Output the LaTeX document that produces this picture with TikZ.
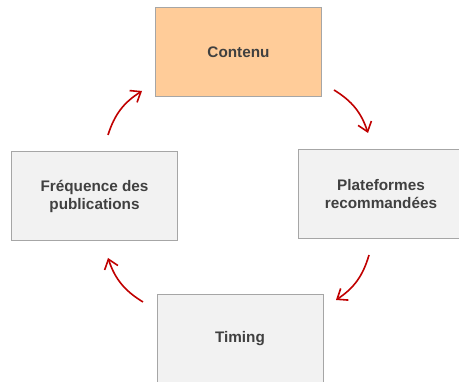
\documentclass[tikz,border=0pt]{standalone}
\usepackage{fontspec}
\setmainfont{Liberation Sans}
\usetikzlibrary{arrows.meta}
\definecolor{boxfill}{HTML}{F2F2F2}
\definecolor{boxorange}{HTML}{FFCC99}
\definecolor{boxline}{HTML}{A6A6A6}
\definecolor{txt}{HTML}{404040}
\definecolor{arr}{HTML}{C00000}
\begin{document}
\begin{tikzpicture}[x=1pt,y=1pt,
  box/.style={draw=boxline, line width=1pt, fill=boxfill, minimum width=166pt, minimum height=89pt,
    inner sep=0pt, align=center, text=txt, font=\bfseries\fontsize{15.3}{17.5}\selectfont},
  cyc/.style={draw=arr, line width=1.6pt, -{Straight Barb[length=9pt,width=14pt,line width=1.6pt]}, bend left=20}]
\useasboundingbox (0,0) rectangle (459,382);
\clip (0,0) rectangle (459,382);
\node[box, fill=boxorange] (c) at (238.5,329.5) {Contenu};
\node[box] (p) at (381,188) {Plateformes\\recommandées};
\node[box] (f) at (94.5,185.5) {Fréquence des\\publications};
\node[box] (t) at (240,43) {Timing};
\coordinate (a1s) at (334,292);
\coordinate (a1e) at (368,249);
\coordinate (a2s) at (369,127);
\coordinate (a2e) at (336,82);
\coordinate (a3s) at (143,80);
\coordinate (a3e) at (108,124);
\coordinate (a4s) at (108,247);
\coordinate (a4e) at (142,291);
\draw[cyc] (a1s) to (a1e);
\draw[cyc] (a2s) to (a2e);
\draw[cyc] (a3s) to (a3e);
\draw[cyc] (a4s) to (a4e);
\end{tikzpicture}
\end{document}
